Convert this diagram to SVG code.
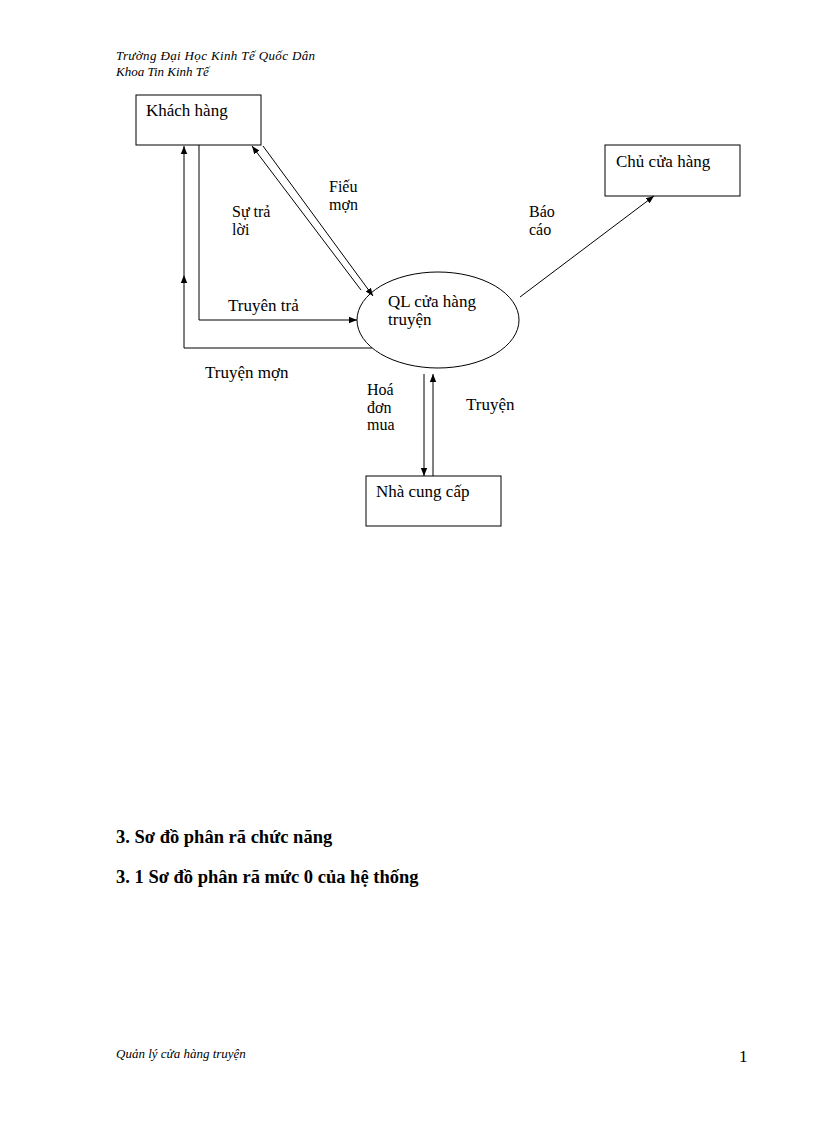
<svg xmlns="http://www.w3.org/2000/svg" width="816" height="1123" viewBox="0 0 816 1123">
<style>
text{font-family:"Liberation Serif",serif;fill:#000}
.t{font-size:17px}
.s{font-size:16px}
.h{font-size:13px;font-style:italic}
.b{font-size:18.5px;font-weight:bold}
.n{fill:#fff;stroke:#000;stroke-width:1}
.c{fill:none;stroke:#000;stroke-width:1}
</style>
<defs><marker id="a" viewBox="0 0 10 10" refX="10" refY="5" markerWidth="8" markerHeight="8" orient="auto" markerUnits="userSpaceOnUse"><path d="M0,1L10,5L0,9z" fill="#000"/></marker></defs>
<rect width="816" height="1123" fill="#fff"/>
<text class="h" x="116" y="60" textLength="199">Trường Đại Học Kinh Tế Quốc Dân</text>
<text class="h" x="116" y="76">Khoa Tin Kinh Tế</text>
<g id="khachhang"><rect class="n" x="136" y="95" width="125" height="50"/><text class="t" x="146" y="116">Khách hàng</text></g>
<g id="chucuahang"><rect class="n" x="605" y="145" width="135" height="51"/><text class="t" x="616" y="167">Chủ cửa hàng</text></g>
<g id="nhacungcap"><rect class="n" x="366" y="476" width="135" height="50"/><text class="t" x="376" y="497">Nhà cung cấp</text></g>
<g id="ql"><ellipse class="n" cx="438" cy="320" rx="81" ry="48"/><text class="t" x="388" y="307">QL cửa hàng</text><text class="t" x="388" y="325">truyện</text></g>
<g id="connectors">
<path class="c" d="M361,290L252,146" marker-end="url(#a)"/>
<path class="c" d="M263,146L373,296" marker-end="url(#a)"/>
<path class="c" d="M199,145V320H357" marker-end="url(#a)"/>
<path class="c" d="M372,348H184V275" marker-end="url(#a)"/>
<path class="c" d="M184,275V146" marker-end="url(#a)"/>
<path class="c" d="M520,297L654,196" marker-end="url(#a)"/>
<path class="c" d="M424,374V476" marker-end="url(#a)"/>
<path class="c" d="M433,476V374" marker-end="url(#a)"/>
<text class="s" x="329" y="192">Fiếu</text><text class="s" x="329" y="210">mợn</text>
<text class="s" x="232" y="217">Sự trả</text><text class="s" x="232" y="235">lời</text>
<text class="t" x="228" y="311">Truyên trả</text>
<text class="t" x="205" y="378">Truyện mợn</text>
<text class="s" x="529" y="217">Báo</text><text class="s" x="529" y="235">cáo</text>
<text class="s" x="367" y="395">Hoá</text><text class="s" x="367" y="413">đơn</text><text class="s" x="367" y="430">mua</text>
<text class="t" x="466" y="410">Truyện</text>
</g>
<text class="b" x="116" y="843">3. Sơ đồ phân rã chức năng</text>
<text class="b" x="116" y="883">3. 1 Sơ đồ phân rã mức 0 của hệ thống</text>
<text class="h" x="116" y="1058">Quản lý cửa hàng truyện</text>
<text x="739" y="1062" style="font-size:17px">1</text>
</svg>
